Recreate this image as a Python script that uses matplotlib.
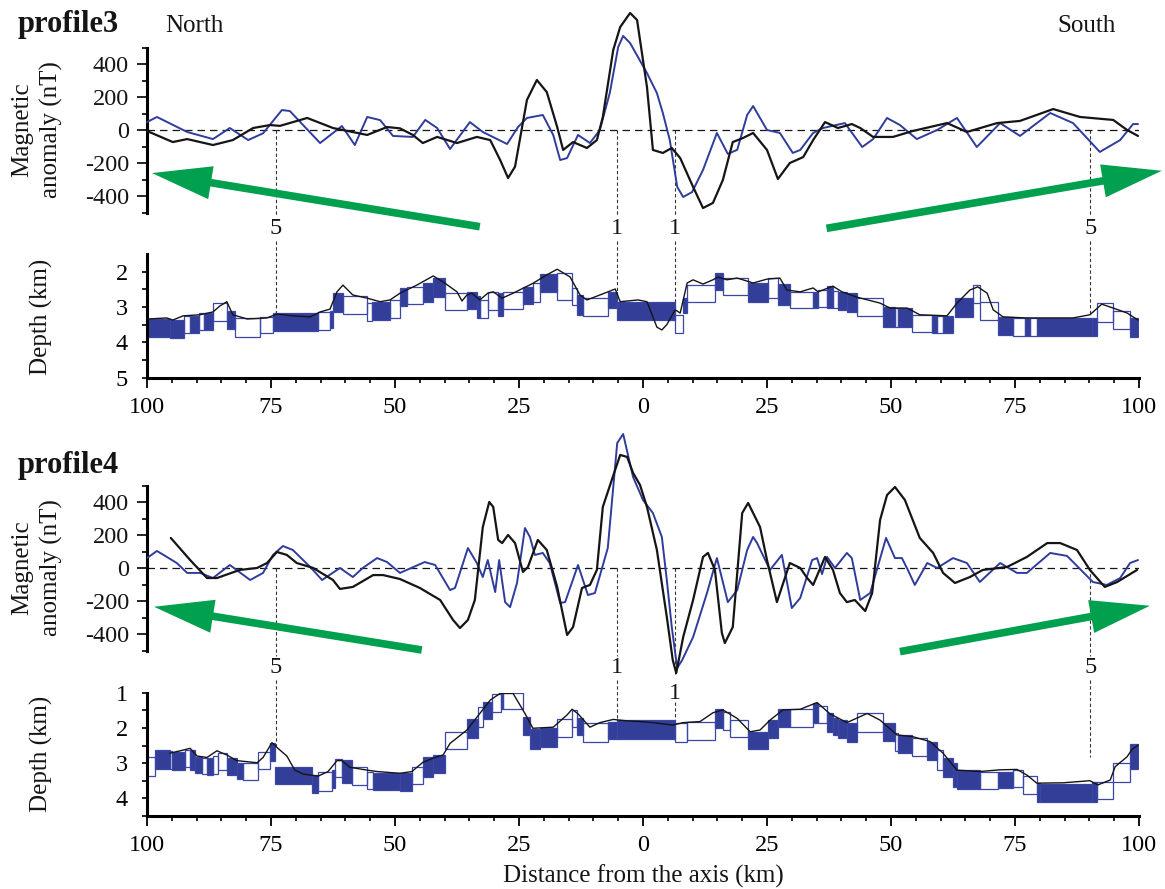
import matplotlib
matplotlib.use('Agg')
import matplotlib.pyplot as plt
from matplotlib.patches import Rectangle

# ---------------- DATA ----------------
# Profile 3 magnetic anomaly (km from axis, nT)
p3_mag_black_km = [-100.0, -94.8, -91.9, -86.7, -82.7, -78.6, -75.2, -73.2, -67.7, -62.5, -55.6, -51.6, -49.0,
                   -46.4, -44.4, -41.5, -37.5, -33.5, -30.8, -28.8, -27.2, -25.8, -23.4, -21.4, -19.4, -17.3,
                   -16.1, -14.1, -11.3, -9.3, -8.1, -6.0, -4.6, -2.6, -1.2, 0.8, 2.0, 4.0, 5.8, 7.5, 10.1, 12.1,
                   14.1, 16.1, 18.1, 20.2, 22.2, 25.0, 27.2, 29.6, 32.3, 34.3, 36.7, 39.3, 42.1, 43.8, 46.4,
                   50.4, 54.4, 61.3, 65.3, 71.4, 76.0, 82.7, 88.1, 94.8, 97.6, 99.8]
p3_mag_black_nT = [-6, -73, -55, -91, -61, 12, 30, 25, 73, 12, -30, 18, 10,
                   -30, -79, -42, -79, -42, -61, -182, -291, -222, 182, 303, 230, 18,
                   -121, -73, -109, -61, 79, 485, 624, 709, 667, 261, -121, -139, -109, -170, -345, -473,
                   -442, -303, -73, -48, -18, -121, -297, -200, -164, -61, 48, 12, 36, 12, -42,
                   -42, -6, 42, -12, 42, 55, 127, 79, 61, 0, -36]
p3_mag_blue_km = [-100.0, -98.0, -91.9, -86.7, -83.3, -79.6, -76.6, -72.8, -71.2, -65.1, -60.7, -58.1, -55.6,
                  -53.0, -50.4, -46.4, -43.9, -41.5, -38.9, -34.9, -32.3, -27.4, -25.2, -23.4, -20.2, -18.1,
                  -16.7, -15.3, -13.1, -10.7, -8.7, -6.7, -5.0, -4.0, -2.6, 0.8, 2.8, 4.0, 5.4, 6.9, 8.1, 9.9,
                  12.1, 14.9, 17.1, 19.0, 21.0, 22.2, 25.0, 27.6, 30.2, 31.7, 34.3, 36.3, 40.7, 44.2, 46.4,
                  49.2, 51.8, 55.2, 59.3, 63.3, 67.3, 72.0, 76.0, 82.1, 86.7, 92.1, 96.2, 98.8, 99.8]
p3_mag_blue_nT = [48, 79, -12, -55, 12, -61, -20, 121, 115, -79, 24, -91, 79,
                  60, -36, -42, 61, 12, -115, 48, -12, -85, 18, 73, 91, -30,
                  -182, -170, -30, -79, 0, 224, 503, 570, 527, 345, 224, 103, -61, -345, -406, -376,
                  -242, -18, -145, -120, 91, 145, 0, -18, -139, -121, -18, 12, 42, -103, -55,
                  73, 30, -55, 0, 73, -103, 42, -36, 103, 42, -133, -61, 36, 36]

# Profile 4 magnetic anomaly
p4_mag_black_km = [-95.2, -91.3, -87.9, -85.9, -81.3, -77.8, -75.8, -73.8, -71.8, -69.8, -66.5, -62.5, -61.1,
                   -58.5, -54.4, -52.4, -49.0, -45.0, -40.9, -38.3, -36.9, -35.3, -33.9, -32.3, -31.0, -30.2,
                   -29.2, -28.4, -27.2, -25.8, -24.2, -23.2, -21.2, -19.4, -17.3, -15.3, -14.1, -12.3, -10.7,
                   -9.3, -8.1, -6.3, -4.6, -3.2, -2.0, -0.6, 0.8, 2.8, 4.8, 6.0, 6.7, 8.1, 10.1, 12.1, 13.1,
                   14.5, 15.9, 16.5, 18.1, 20.0, 21.2, 23.6, 25.0, 27.0, 29.6, 31.7, 33.1, 34.3, 36.7, 38.3,
                   39.7, 41.1, 42.7, 44.8, 46.2, 47.8, 49.2, 50.8, 52.8, 55.8, 58.5, 60.5, 62.9, 65.9, 68.5,
                   73.4, 77.4, 81.5, 84.1, 87.5, 90.1, 93.1, 95.6, 99.6]
p4_mag_black_nT = [184, 50, -59, -59, -10, 2, 32, 99, 81, 32, 2, -71, -125,
                   -113, -41, -41, -65, -119, -192, -313, -362, -313, -192, 250, 402, 372,
                   172, 153, 202, 153, -22, 8, 172, 111, -113, -404, -356, -119, -101,
                   -10, 372, 535, 687, 675, 578, 505, 372, 111, -295, -556, -635, -417, -192, 69, 93,
                   -10, -392, -453, -356, 335, 396, 250, 50, -205, 32, 2, -59, -101, 69, -10,
                   -150, -205, -192, -259, -150, 293, 444, 493, 414, 184, 93, -28, -89, -53, -10,
                   8, 69, 153, 153, 111, -10, -113, -83, -10]
p4_mag_blue_km = [-100.0, -98.0, -96.0, -94.0, -91.9, -89.3, -86.7, -83.3, -79.2, -76.6, -74.6, -72.6, -70.6,
                  -67.1, -64.7, -61.1, -58.5, -56.5, -53.6, -51.6, -49.0, -44.0, -41.9, -38.9, -37.9, -35.3,
                  -33.5, -32.3, -31.3, -29.8, -29.0, -27.8, -26.8, -25.4, -23.8, -22.8, -21.8, -20.2, -18.8,
                  -16.7, -15.7, -13.1, -11.1, -9.7, -7.1, -5.2, -4.0, -2.0, 0.0, 2.0, 3.8, 4.8, 5.8, 6.9, 7.9,
                  10.1, 12.9, 14.9, 16.5, 17.1, 19.0, 21.0, 22.2, 23.0, 25.6, 28.0, 30.0, 31.7, 34.1, 35.1,
                  36.1, 37.1, 38.7, 41.1, 42.1, 43.8, 45.8, 49.0, 50.8, 52.2, 53.4, 54.8, 57.3, 59.3, 62.5,
                  65.3, 67.9, 72.0, 75.4, 77.4, 82.1, 85.5, 90.7, 93.5, 96.2, 98.2, 99.8]
p4_mag_blue_nT = [62, 105, 69, 32, -28, -28, -59, 20, -71, -28, 81, 135, 111,
                  8, -71, 2, -53, 2, 62, 38, -28, 38, 20, -132, -119, 123,
                  32, -53, 50, -144, 50, -205, -235, -89, 244, 190, 81, 93, 32,
                  -210, -205, 20, -162, -150, 123, 759, 814, 553, 414, 335, 190, -71, -356, -604, -556,
                  -417, -150, 62, -132, -205, -132, 111, 190, 153, -10, 81, -241, -180, 50, 62,
                  -35, 69, 2, 93, 62, -192, -150, 184, 62, 62, -10, -101, 32, 2, 62,
                  32, -83, 32, -28, -28, 93, 75, -83, -101, -59, 32, 50]

# Profile 3 bathymetry (km, depth km)
p3_bathy_km = [-99.8, -96.0, -94.8, -92.7, -89.3, -86.7, -85.3, -83.9, -82.7, -79.8, -75.8, -73.8, -70.6,
               -67.1, -65.1, -63.1, -61.7, -60.5, -58.5, -55.6, -53.0, -51.0, -49.0, -45.6, -42.3, -40.3,
               -37.5, -36.5, -35.5, -34.5, -32.9, -31.3, -30.2, -28.4, -26.2, -22.2, -19.4, -17.3, -14.7,
               -12.7, -11.3, -8.7, -5.6, -4.6, -1.0, 0.8, 2.8, 3.8, 4.8, 6.5, 7.5, 8.9, 10.1, 12.1, 14.1,
               15.1, 16.9, 19.0, 22.2, 25.0, 27.6, 29.0, 31.7, 34.3, 35.3, 38.3, 40.1, 43.1, 47.8, 49.8,
               53.2, 54.2, 55.8, 61.3, 63.3, 65.9, 67.5, 69.4, 70.6, 72.6, 77.4, 86.7, 90.1, 92.5, 94.8,
               97.6, 99.8]
p3_bathy_depth = [3.34, 3.31, 3.37, 3.25, 3.22, 3.14, 2.97, 2.85, 3.22, 3.34, 3.31, 3.20, 3.25,
                  3.28, 3.14, 3.06, 2.57, 2.38, 2.66, 2.75, 2.85, 2.80, 2.61, 2.38, 2.12, 2.29,
                  2.57, 2.83, 2.66, 2.61, 2.80, 2.61, 2.57, 2.75, 2.61, 2.33, 2.09, 1.93, 2.15,
                  2.66, 2.80, 2.66, 2.49, 2.85, 2.80, 2.85, 3.57, 3.65, 3.50, 3.08, 3.17, 2.32, 2.23, 2.35, 2.23,
                  2.15, 2.23, 2.18, 2.32, 2.21, 2.18, 2.52, 2.57, 2.46, 2.57, 2.41, 2.57, 2.72, 2.89, 3.03,
                  3.03, 3.10, 3.22, 3.25, 2.89, 2.52, 2.43, 2.61, 3.08, 3.28, 3.31, 3.31, 3.22, 2.92, 3.03,
                  3.17, 3.37]

# Profile 4 bathymetry
p4_bathy_km = [-95.4, -93.3, -91.3, -89.9, -87.9, -85.9, -83.9, -81.9, -77.8, -76.6, -74.8, -73.6, -71.8,
               -70.2, -68.5, -65.5, -63.5, -61.7, -60.7, -59.1, -55.6, -53.6, -49.0, -46.6, -44.4, -42.3,
               -40.3, -38.9, -35.5, -32.9, -30.8, -28.8, -26.2, -23.8, -22.2, -18.1, -15.3, -14.3, -13.1,
               -10.7, -8.7, -6.0, -3.2, -0.6, 2.0, 6.0, 8.1, 11.5, 14.1, 16.1, 19.0, 21.6, 23.6, 25.6,
               28.2, 31.7, 35.1, 37.7, 41.1, 45.2, 47.8, 51.2, 54.4, 57.9, 60.5, 63.3, 67.9, 72.0, 75.4,
               77.4, 79.4, 84.7, 90.1, 91.7, 94.2, 95.2, 97.6, 98.6, 99.8]
p4_bathy_depth = [2.72, 2.65, 2.58, 2.80, 2.84, 2.65, 2.77, 2.93, 2.99, 2.84, 2.42, 2.58, 2.80,
                  3.20, 3.31, 3.37, 3.24, 2.93, 2.93, 3.12, 3.20, 3.24, 3.29, 3.24, 2.98, 2.86,
                  2.77, 2.44, 2.06, 1.59, 1.21, 1.02, 1.02, 1.59, 2.01, 1.98, 1.63, 1.47, 1.60,
                  1.98, 1.85, 1.76, 1.80, 1.82, 1.85, 1.92, 1.85, 1.82, 1.57, 1.49, 1.73, 2.11, 2.06, 1.78,
                  1.49, 1.47, 1.28, 1.60, 1.85, 1.59, 1.78, 2.20, 2.25, 2.39, 2.72, 3.20, 3.24, 3.19, 3.18,
                  3.34, 3.57, 3.56, 3.50, 3.62, 3.48, 3.10, 2.82, 2.61, 2.49]

# Profile 3 model blocks: x from, x to, top depth, bottom depth, filled (1) / open (0)
p3_blk_x0 = [-100.0, -95.4, -92.5, -91.3, -89.5, -88.5, -86.6, -83.9, -82.3, -77.2, -74.5, -65.5, -63.1, -62.4,
             -60.4, -55.7, -54.7, -51.0, -49.0, -47.6, -44.4, -42.3, -39.9, -35.5, -33.5, -32.9, -31.2, -29.2,
             -28.2, -24.2, -22.2, -20.8, -17.3, -14.3, -13.3, -12.1, -7.1, -5.2, 6.5, 8.1, 8.8, 14.5, 16.1,
             21.2, 25.2, 27.2, 29.6, 34.3, 35.3, 37.1, 38.3, 39.3, 41.1, 43.1, 48.4, 50.8, 51.4, 54.2, 58.3,
             59.3, 60.5, 62.9, 66.5, 67.9, 71.6, 74.6, 77.0, 78.0, 79.4, 90.5, 91.5, 94.8, 98.2]
p3_blk_x1 = [-95.4, -92.5, -91.3, -89.5, -88.5, -86.6, -83.9, -82.3, -77.2, -74.5, -65.5, -63.1, -62.4, -60.4,
             -55.7, -54.7, -51.0, -49.0, -47.6, -44.4, -42.3, -39.9, -35.5, -33.5, -32.9, -31.2, -29.2, -28.2,
             -24.2, -22.2, -20.8, -17.3, -14.3, -13.3, -12.1, -7.1, -5.2, 6.5, 8.1, 8.8, 14.5, 16.1, 21.2,
             25.2, 27.2, 29.6, 34.3, 35.3, 37.1, 38.3, 39.3, 41.1, 43.1, 48.4, 50.8, 51.4, 54.2, 58.3, 59.3,
             60.5, 62.5, 66.5, 67.9, 71.6, 74.6, 77.0, 78.0, 79.4, 90.5, 91.5, 94.8, 98.2, 99.8]
p3_blk_top = [3.35, 3.37, 3.25, 3.25, 3.18, 3.18, 2.88, 3.11, 3.30, 3.29, 3.18, 3.13, 3.10, 2.61,
              2.70, 2.90, 2.85, 2.80, 2.47, 2.42, 2.33, 2.19, 2.59, 2.57, 2.70, 2.80, 2.57, 2.61,
              2.57, 2.42, 2.33, 2.07, 2.03, 2.45, 2.66, 2.75, 2.57, 2.85, 3.23, 2.75, 2.38, 2.03, 2.19,
              2.33, 2.19, 2.35, 2.57, 2.57, 2.52, 2.41, 2.55, 2.57, 2.61, 2.75, 3.01, 3.04, 3.04, 3.23, 3.25,
              3.25, 3.25, 2.75, 2.38, 2.85, 3.29, 3.32, 3.32, 3.32, 3.32, 3.30, 2.90, 3.10, 3.32]
p3_blk_bot = [3.86, 3.88, 3.75, 3.75, 3.65, 3.66, 3.39, 3.63, 3.84, 3.75, 3.68, 3.65, 3.60, 3.13,
              3.20, 3.40, 3.37, 3.30, 2.97, 2.92, 2.85, 2.71, 3.08, 3.07, 3.32, 3.32, 3.08, 3.25,
              3.07, 2.92, 2.85, 2.57, 2.80, 2.95, 3.23, 3.25, 3.04, 3.37, 3.73, 3.18, 2.85, 2.52, 2.66,
              2.85, 2.75, 2.95, 3.04, 3.04, 3.01, 3.04, 3.04, 3.08, 3.13, 3.25, 3.56, 3.56, 3.56, 3.70, 3.75,
              3.75, 3.75, 3.29, 2.88, 3.37, 3.80, 3.82, 3.82, 3.82, 3.82, 3.82, 3.42, 3.63, 3.86]
p3_blk_fill = [1, 1, 0, 1, 0, 1, 0, 1, 0, 0, 1, 0, 1, 1,
               0, 0, 1, 0, 1, 0, 1, 1, 0, 1, 1, 0, 0, 1,
               0, 1, 0, 1, 0, 0, 1, 0, 1, 1, 0, 1, 0, 1, 0,
               1, 0, 1, 0, 1, 0, 1, 0, 1, 1, 0, 1, 0, 1, 0, 1,
               0, 1, 1, 0, 0, 1, 0, 1, 0, 1, 1, 0, 0, 1]

# Profile 4 model blocks
p4_blk_x0 = [-100.0, -98.4, -95.4, -95.0, -92.3, -91.3, -90.3, -88.9, -87.9, -86.7, -85.7, -83.9, -81.9, -80.6,
             -77.6, -75.2, -74.2, -66.7, -65.5, -62.7, -62.1, -60.7, -58.7, -55.6, -54.4, -49.0, -46.6, -44.4,
             -42.3, -39.9, -35.5, -33.3, -32.3, -30.4, -28.6, -28.2, -24.2, -22.8, -20.8, -17.3, -14.3, -13.3,
             -12.1, -7.1, -5.2, 6.5, 8.8, 14.5, 16.1, 17.5, 21.2, 25.2, 27.2, 29.6, 34.3, 35.3, 37.1, 38.3,
             39.3, 41.1, 43.1, 48.4, 50.8, 51.4, 54.2, 57.3, 59.3, 60.5, 62.5, 63.3, 67.9, 71.6, 74.6, 76.6,
             79.4, 80.0, 90.5, 91.5, 94.8, 98.2]
p4_blk_x1 = [-98.4, -95.4, -95.0, -92.3, -91.3, -90.3, -88.9, -87.9, -86.7, -85.7, -83.9, -81.9, -80.6, -77.6,
             -75.2, -74.2, -66.7, -65.5, -62.7, -62.1, -60.7, -58.7, -55.6, -54.4, -49.0, -46.6, -44.4, -42.3,
             -39.9, -35.5, -33.3, -32.3, -30.4, -28.6, -28.2, -24.2, -22.8, -20.8, -17.3, -14.3, -13.3, -12.1,
             -7.1, -5.2, 6.5, 8.8, 14.5, 16.1, 17.5, 21.2, 25.2, 27.2, 29.6, 34.3, 35.3, 37.1, 38.3, 39.3,
             41.1, 43.1, 48.4, 50.8, 51.4, 54.2, 57.3, 59.3, 60.5, 62.5, 63.3, 67.9, 71.6, 74.6, 76.6, 79.4,
             80.0, 90.5, 91.5, 94.8, 98.2, 99.8]
p4_blk_top = [2.84, 2.63, 2.66, 2.68, 2.63, 2.63, 2.82, 2.86, 2.86, 2.80, 2.70, 2.86, 3.00, 3.00,
              2.68, 2.43, 3.10, 3.34, 3.24, 3.20, 2.89, 2.91, 3.10, 3.24, 3.27, 3.29, 3.10, 2.84,
              2.77, 2.11, 1.76, 1.40, 1.26, 1.04, 1.00, 1.00, 1.68, 2.04, 2.01, 1.76, 1.49, 1.73,
              1.87, 1.82, 1.78, 1.87, 1.82, 1.47, 1.54, 1.78, 2.11, 1.78, 1.47, 1.47, 1.30, 1.38, 1.59, 1.73,
              1.78, 1.87, 1.59, 1.85, 2.15, 2.20, 2.30, 2.39, 2.63, 2.86, 3.00, 3.20, 3.24, 3.24, 3.20, 3.37,
              3.57, 3.59, 3.53, 3.53, 3.00, 2.46]
p4_blk_bot = [3.37, 3.18, 3.18, 3.20, 3.10, 3.20, 3.29, 3.31, 3.34, 3.30, 3.20, 3.34, 3.46, 3.48,
              3.18, 2.95, 3.59, 3.86, 3.78, 3.70, 3.40, 3.57, 3.62, 3.74, 3.76, 3.78, 3.59, 3.39,
              3.29, 2.61, 2.30, 1.97, 1.76, 1.54, 1.47, 1.47, 2.20, 2.61, 2.55, 2.25, 1.98, 2.20,
              2.39, 2.32, 2.32, 2.39, 2.34, 2.01, 2.06, 2.25, 2.61, 2.30, 1.97, 1.97, 1.85, 1.87, 2.11, 2.20,
              2.30, 2.39, 2.11, 2.36, 2.65, 2.72, 2.80, 2.91, 3.20, 3.39, 3.67, 3.74, 3.74, 3.72, 3.69, 3.88,
              4.10, 4.10, 4.10, 4.03, 3.53, 3.18]
p4_blk_fill = [0, 1, 0, 1, 0, 1, 1, 0, 1, 0, 0, 1, 1, 0,
               0, 1, 1, 1, 0, 1, 0, 1, 0, 0, 1, 1, 0, 1,
               1, 0, 1, 0, 1, 0, 1, 0, 1, 1, 1, 0, 0, 1,
               0, 1, 1, 0, 0, 1, 0, 0, 1, 1, 1, 0, 1, 0, 1, 1,
               1, 1, 0, 1, 0, 1, 0, 1, 0, 1, 1, 1, 0, 1, 0, 0,
               1, 1, 1, 0, 0, 1]

# Anomaly markers (chron labels)
marker_km = [-74.0, -5.2, 6.5, 90.2]
marker_labels = ['5', '1', '1', '5']

x_tick_pos = [-100, -75, -50, -25, 0, 25, 50, 75, 100]
x_tick_labels = ['100', '75', '50', '25', '0', '25', '50', '75', '100']
mag_tick_pos = [-400, -200, 0, 200, 400]
mag_tick_labels = ['-400', '-200', '0', '200', '400']

# ---------------- STYLE / LAYOUT ----------------
W, H = 1165, 889
plt.rcParams['font.family'] = ['Liberation Serif', 'DejaVu Serif']
plt.rcParams['axes.unicode_minus'] = False
FS = 17.5
BLACK = '#151515'
BLUE = '#2f3c9c'
FILL = '#323e98'
GREEN = '#00a04e'

fig = plt.figure(figsize=(W / 100, H / 100), dpi=100)


def px_axes(top, bottom, left=147, right=1139):
    ax = fig.add_axes([left / W, 1 - bottom / H, (right - left) / W, (bottom - top) / H])
    ax.patch.set_alpha(0)
    return ax


def style_mag(ax, ylim):
    ax.set_xlim(-100, 100)
    ax.set_ylim(*ylim)
    for s in ['top', 'right', 'bottom']:
        ax.spines[s].set_visible(False)
    ax.spines['left'].set_bounds(-500, 500)
    ax.spines['left'].set_linewidth(2.2)
    ax.set_xticks([])
    ax.set_yticks(mag_tick_pos)
    ax.set_yticklabels(mag_tick_labels)
    ax.set_yticks(list(range(-500, 501, 100)), minor=True)
    ax.tick_params(axis='y', which='major', length=7, width=1.3, pad=6, labelsize=FS, colors=BLACK)
    ax.tick_params(axis='y', which='minor', length=3.8, width=1.2)
    ax.axhline(0, color=BLACK, lw=0.9, dashes=(6, 4), zorder=1)


def style_depth(ax, ylim, majors, minors):
    ax.set_xlim(-100, 100)
    ax.set_ylim(*ylim)
    for s in ['top', 'right']:
        ax.spines[s].set_visible(False)
    ax.spines['left'].set_linewidth(2.2)
    ax.spines['bottom'].set_linewidth(2.2)
    ax.set_yticks(majors)
    ax.set_yticklabels([str(m) for m in majors])
    ax.set_yticks(minors, minor=True)
    ax.set_xticks(x_tick_pos)
    ax.set_xticklabels(x_tick_labels)
    ax.set_xticks(list(range(-95, 100, 5)), minor=True)
    ax.tick_params(axis='y', which='both', length=3.8, width=1.2, pad=10, labelsize=FS)
    ax.tick_params(axis='x', which='major', length=7, width=1.3, pad=7, labelsize=FS)
    ax.tick_params(axis='x', which='minor', length=3.6, width=1.2)


def draw_blocks(ax, x0, x1, top, bot, fill):
    for a, b, t, d, f in zip(x0, x1, top, bot, fill):
        ax.add_patch(Rectangle((a, t), b - a, d - t,
                               facecolor=FILL if f else 'none',
                               edgecolor='#3a47a6', lw=0.9, zorder=2 if f else 2.5))


def green_arrow(ax, tail, tip):
    ax.annotate('', xy=tip, xytext=tail, xycoords='data', textcoords='data',
                annotation_clip=False,
                arrowprops=dict(arrowstyle='simple,head_length=4.3,head_width=2.4,tail_width=0.55',
                                mutation_scale=10, color=GREEN, shrinkA=0, shrinkB=0, lw=0))


def markers(ax_mag, ax_dep, mag_end, label_y, dep_start, dep_end):
    for k, lab, me, ly, ds, de in zip(marker_km, marker_labels, mag_end, label_y, dep_start, dep_end):
        ax_mag.plot([k, k], [0, me], color='#333333', lw=0.8, dashes=(3, 2.2), clip_on=False, zorder=1)
        ax_mag.text(k, ly, lab, ha='center', va='center', fontsize=FS, color=BLACK)
        ax_dep.plot([k, k], [ds, de], color='#333333', lw=0.8, dashes=(3, 2.2), clip_on=False, zorder=1.5)


line_kw = dict(solid_joinstyle='round', solid_capstyle='round')

# ---------- Profile 3 ----------
ax1 = px_axes(130 - 760 * 0.165, 130 + 500 * 0.165)
style_mag(ax1, (-500, 760))
ax1.plot(p3_mag_blue_km, p3_mag_blue_nT, color=BLUE, lw=1.4, zorder=3, clip_on=False, **line_kw)
ax1.plot(p3_mag_black_km, p3_mag_black_nT, color=BLACK, lw=1.6, zorder=4, clip_on=False, **line_kw)
green_arrow(ax1, (-32.9, -586), (-99.0, -261))
green_arrow(ax1, (37.0, -596), (104.6, -247))

ax2 = px_axes(271.7 - 0.5 * 35.3, 271.7 + 3 * 35.3)
style_depth(ax2, (5, 1.5), [2, 3, 4, 5], [2.5, 3.5, 4.5])
draw_blocks(ax2, p3_blk_x0, p3_blk_x1, p3_blk_top, p3_blk_bot, p3_blk_fill)
ax2.plot(p3_bathy_km, p3_bathy_depth, color=BLACK, lw=1.0, zorder=4, **line_kw)
markers(ax1, ax2, [-520] * 4, [-594] * 4, [1.13] * 4, [3.17, 2.85, 3.23, 3.23])

# ---------- Profile 4 ----------
ax3 = px_axes(568.3 - 850 * 0.165, 568.3 + 700 * 0.165)
style_mag(ax3, (-700, 850))
ax3.plot(p4_mag_blue_km, p4_mag_blue_nT, color=BLUE, lw=1.4, zorder=3, **line_kw)
ax3.plot(p4_mag_black_km, p4_mag_black_nT, color=BLACK, lw=1.6, zorder=4, **line_kw)
green_arrow(ax3, (-44.6, -495), (-98.6, -233))
green_arrow(ax3, (51.8, -505), (102.2, -227))

ax4 = px_axes(692.7, 692.7 + 3.5 * 35.2)
style_depth(ax4, (4.5, 1), [1, 2, 3, 4], [1.5, 2.5, 3.5, 4.5])
draw_blocks(ax4, p4_blk_x0, p4_blk_x1, p4_blk_top, p4_blk_bot, p4_blk_fill)
ax4.plot(p4_bathy_km, p4_bathy_depth, color=BLACK, lw=1.0, zorder=4, **line_kw)
markers(ax3, ax4, [-530, -530, -640, -530], [-600, -600, -756, -600],
        [0.64, 0.64, 1.26, 0.64], [2.5, 1.78, 1.78, 2.84])

# ---------- Texts ----------
def ftext(x, y, s, **kw):
    fig.text(x / W, 1 - y / H, s, **kw)

ftext(18, 31.7, 'profile3', fontsize=22, fontweight='bold', va='baseline', color=BLACK)
ftext(165, 31.7, 'North', fontsize=18, va='baseline', color=BLACK)
ftext(1057, 31.7, 'South', fontsize=18, va='baseline', color=BLACK)
ftext(18, 473.3, 'profile4', fontsize=22, fontweight='bold', va='baseline', color=BLACK)
ftext(643, 883, 'Distance from the axis (km)', fontsize=18, ha='center', va='baseline', color=BLACK)
ftext(37, 130, 'Magnetic\nanomaly (nT)', fontsize=18, rotation=90, ha='center', va='center',
      linespacing=1.35, color=BLACK)
ftext(37, 568, 'Magnetic\nanomaly (nT)', fontsize=18, rotation=90, ha='center', va='center',
      linespacing=1.35, color=BLACK)
ftext(41, 317, 'Depth (km)', fontsize=18, rotation=90, ha='center', va='center', color=BLACK)
ftext(41, 754, 'Depth (km)', fontsize=18, rotation=90, ha='center', va='center', color=BLACK)

fig.savefig('out.png', dpi=100)
